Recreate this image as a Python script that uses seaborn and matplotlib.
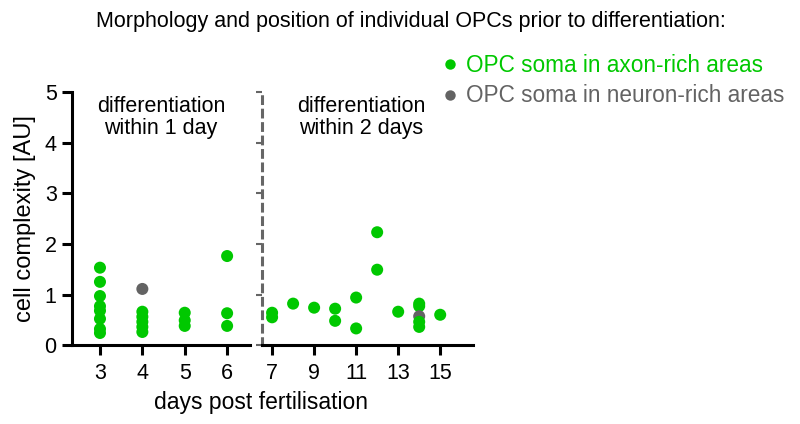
import numpy as np
import pandas as pd
import matplotlib
matplotlib.use('Agg')
import matplotlib.pyplot as plt
import seaborn as sns

# values (cell complexity, AU)
early_days = [3, 3, 3, 3, 3, 3, 3, 3, 4, 4, 4, 4, 4, 4, 5, 5, 5, 6, 6, 6]
early_vals = [1.53, 1.25, 0.97, 0.77, 0.68, 0.52, 0.32, 0.24,
              1.11, 0.66, 0.56, 0.46, 0.36, 0.26,
              0.64, 0.49, 0.38,
              1.76, 0.63, 0.38]
early_area = ['axon'] * 8 + ['neuron'] + ['axon'] * 11

late_days = [7, 7, 8, 9, 10, 10, 11, 11, 12, 12, 13, 14, 14, 14, 14, 14, 15]
late_vals = [0.64, 0.55, 0.82, 0.74, 0.72, 0.48, 0.94, 0.33, 2.23, 1.49, 0.66,
             0.82, 0.77, 0.57, 0.46, 0.36, 0.60]
late_area = ['axon'] * 13 + ['neuron'] + ['axon'] * 3

early_ticks = [3, 4, 5, 6]
late_ticks = [7, 9, 11, 13, 15]
y_ticks = [0, 1, 2, 3, 4, 5]

legend_labels = {'axon': 'OPC soma in axon-rich areas',
                 'neuron': 'OPC soma in neuron-rich areas'}
colors = {'axon': '#00c800', 'neuron': '#636363'}

early = pd.DataFrame({'day': early_days, 'value': early_vals, 'area': early_area})
late = pd.DataFrame({'day': late_days, 'value': late_vals, 'area': late_area})

sns.set_theme(style='ticks')
plt.rcParams['font.family'] = ['Liberation Sans', 'DejaVu Sans']
plt.rcParams['text.color'] = 'black'
plt.rcParams['axes.labelcolor'] = 'black'
plt.rcParams['xtick.color'] = 'black'
plt.rcParams['ytick.color'] = 'black'

fig = plt.figure(figsize=(8, 4.24), dpi=100)
ax1 = fig.add_axes([0.09, 0.186, 0.2225, 0.597])
ax2 = fig.add_axes([0.3275, 0.186, 0.264, 0.597])

for ax, df in [(ax1, early), (ax2, late)]:
    sns.scatterplot(data=df, x='day', y='value', hue='area', palette=colors,
                    s=75, edgecolor='none', legend=False, ax=ax, zorder=3,
                    clip_on=False)
    ax.set_ylim(0, 5)
    ax.set_xlabel('')
    ax.set_ylabel('')
    for side in ['top', 'right']:
        ax.spines[side].set_visible(False)
    ax.spines['bottom'].set_linewidth(2.2)
    ax.spines['bottom'].set_color('black')
    ax.tick_params(axis='x', length=7, width=2.2, colors='black',
                   labelsize=15.5, pad=6)

ax1.set_xlim(2.34, 6.54)
ax1.set_xticks(early_ticks)
ax1.set_yticks(y_ticks)
ax1.spines['left'].set_linewidth(2.2)
ax1.spines['left'].set_color('black')
ax1.tick_params(axis='y', length=7, width=2.2, colors='black',
                labelsize=15.5, pad=4)
ax1.set_ylabel('cell complexity [AU]', fontsize=17, labelpad=6)

ax2.set_xlim(6.52, 16.57)
ax2.set_xticks(late_ticks)
ax2.set_yticks(y_ticks)
ax2.set_yticklabels([])
ax2.spines['left'].set_color('#666666')
ax2.spines['left'].set_linewidth(2.2)
ax2.spines['left'].set_linestyle((0, (2.2, 2.2)))
ax2.tick_params(axis='y', length=4, width=1.5, color='#666666')

fig.text(0.326, 0.035, 'days post fertilisation', ha='center', fontsize=16.5)
ax1.text(0.5, 0.985, 'differentiation\nwithin 1 day', transform=ax1.transAxes,
         ha='center', va='top', fontsize=15.5, linespacing=1.1)
ax2.text(0.47, 0.985, 'differentiation\nwithin 2 days', transform=ax2.transAxes,
         ha='center', va='top', fontsize=15.5, linespacing=1.1)

fig.text(0.514, 0.95, 'Morphology and position of individual OPCs prior to differentiation:',
         ha='center', va='center', fontsize=15.5)

handles = [plt.Line2D([], [], marker='o', linestyle='', markersize=7.5,
                      markerfacecolor=colors[k], markeredgecolor='none')
           for k in ['axon', 'neuron']]
leg = fig.legend(handles, [legend_labels['axon'], legend_labels['neuron']],
                 loc='upper left', bbox_to_anchor=(0.535, 0.895), frameon=False,
                 fontsize=16.3, handletextpad=0.2, labelspacing=0.35,
                 handlelength=1.1, borderaxespad=0)
for text, k in zip(leg.get_texts(), ['axon', 'neuron']):
    text.set_color(colors[k])

fig.savefig('out.png', dpi=100)
